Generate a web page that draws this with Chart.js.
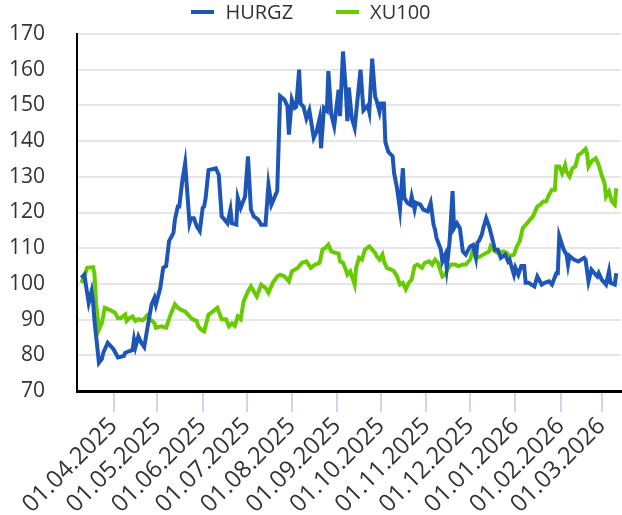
<!DOCTYPE html>
<html>
<head>
<meta charset="utf-8">
<script src="https://cdn.jsdelivr.net/npm/chart.js@4.4.1/dist/chart.umd.min.js"></script>
<style>
  body { margin: 0; background: #fff; font-family: "Open Sans", sans-serif; }
  #wrap { position: relative; width: 622px; height: 515px; }
  #legend { position: absolute; top: 0; left: 0; width: 622px; display: flex; justify-content: center; gap: 43px; font-size: 20px; line-height: 24px; color: #333; }
  .item { display: flex; align-items: center; }
  .swatch { width: 23px; height: 4px; margin-right: 11px; }
</style>
</head>
<body>
<div id="wrap">
  <div id="legend"></div>
  <canvas id="chart" width="622" height="515"></canvas>
</div>
<script>
// day 0 = 01.04.2025
const START = Date.UTC(2025, 3, 1);

const seriesNames = ["HURGZ", "XU100"];
const seriesColors = ["#1d56b6", "#66cc00"];

const tickLabels = ["01.04.2025", "01.05.2025", "01.06.2025", "01.07.2025", "01.08.2025", "01.09.2025",
    "01.10.2025", "01.11.2025", "01.12.2025", "01.01.2026", "01.02.2026", "01.03.2026"];

const hurgzDays = [-22,-20,-17,-15,-14,-13,-10,-8,-7,-4,0,3,7,8,11,13,14,15,17,19,21,24,26,28,29,32,34,36,38,41,42,44,45,47,49,52,53,55,57,59,61,62,63,65,70,72,74,76,78,80,81,84,85,87,90,92,94,96,99,101,104,106,108,110,112,114,117,119,120,122,124,125,127,128,130,132,134,137,139,141,142,144,146,147,149,151,154,155,157,159,160,161,163,165,169,171,174,175,177,179,180,182,183,185,186,188,191,192,194,196,198,199,201,203,204,206,207,210,212,215,217,219,220,221,224,225,227,228,230,232,233,235,237,239,241,244,246,248,249,250,252,253,255,257,259,261,263,265,268,270,271,274,275,277,279,281,282,284,286,288,290,293,295,298,300,303,304,305,308,310,311,312,315,318,322,323,325,327,329,331,332,334,336,337,339,340,343,344];
const hurgzValues = [101.7,102.6,94.7,98,95,89.6,77.9,79,80.7,83.5,81.7,79.4,79.8,80.7,81.2,81.5,84.4,82.3,85.3,83.5,82.3,89.6,94.2,96.1,94.2,98.9,104.5,105,112,114.3,118,121.7,121.7,128.7,133.8,117,118.4,118.4,116.1,114.8,121.3,121.7,124,131.9,132.4,130.6,118.9,118,117,120.8,117,116.6,124.1,121.3,124.5,135.7,120.8,118.9,118,116.6,116.6,127.8,122.2,124.1,126,152.6,151.6,149.8,141.8,151.6,149.3,149.6,160,150.5,149.6,146.3,148.6,140.9,142.7,146.3,138,149.3,148.5,159.6,147.5,144.2,154.4,147,165.1,154,145.6,155,146.5,143.7,160,148.6,150,148.2,163.1,152.4,151.4,148.2,150.5,150.5,139.8,137,135.7,131,126.8,120.8,132.4,124.1,122.7,122.2,124.5,120.8,122.7,122.2,120.8,120.3,122.7,116.6,115.2,112.9,109.6,106.3,108.2,104.5,112,126,115.6,117,115.6,109.1,108.2,110.5,110.9,107.3,111.5,112,113.8,115.6,118.4,116.1,112.9,109.6,109.6,107.3,108.2,106.3,106.8,102.6,104.5,102.6,105,105,100.3,100.3,99.8,99.3,102.1,99.8,100.3,100.7,99.8,103,103,113.4,109.6,108.2,105.4,107.8,106.8,106.3,107.3,106.8,100.7,104,103,102.1,103,101.2,100.3,99.8,103.5,100.3,99.8,103];

const xu100Days = [-22,-20,-18,-14,-13,-12,-10,-8,-6,-3,1,3,5,8,9,11,13,15,17,20,23,25,28,29,33,36,39,42,44,46,49,52,54,57,58,60,62,65,68,71,74,77,79,81,83,85,87,89,92,94,96,98,101,104,106,109,112,114,117,120,122,126,129,132,135,138,141,143,145,147,149,152,154,155,157,159,160,162,165,166,168,170,172,175,177,179,180,182,184,185,187,190,192,194,196,198,200,202,204,206,208,211,213,216,218,220,222,225,227,229,231,234,236,239,241,244,246,248,250,253,257,258,261,263,267,269,271,274,276,278,280,283,285,287,290,292,294,296,298,300,302,303,305,307,309,310,312,314,316,318,320,323,324,325,327,330,332,334,336,337,339,341,343,344];
const xu100Values = [100.3,102.1,104.5,104.7,102.6,94.7,87.2,89,93.3,92.8,91.9,90.4,90.4,91.4,89.6,90.4,90.9,89.6,90.1,89.8,91.2,90.1,89,87.7,88.1,87.7,91.4,94.3,93.3,92.8,92.3,90.9,90.1,89.6,88.1,87.2,86.7,91.4,92.3,93.3,90.1,90.1,88.1,89,88.3,90.9,90.1,95.1,97.9,99.3,97.9,96.5,99.8,98.9,97.5,100.3,102.1,102.6,102.1,100.7,103.5,104.5,105.9,106.3,104.5,105.4,105.9,109.6,110.1,111,109.1,108.7,108.5,106.3,105.9,103.9,102.6,103.5,99.8,104.5,107.3,106.8,109.6,110.5,109.6,108.7,107.8,106.8,108.2,106.3,104.5,104,103.5,102.1,99.8,100.3,98.5,100.3,101.2,105,105.4,104.5,105.9,106.3,105.4,106.8,105.9,102.1,102.6,104.5,105.4,105.4,105,105.4,105.4,106.8,109.6,107.3,107.5,108.2,109.1,110.5,109.1,108.7,109.1,108.7,107.8,108.2,110.5,112,115.6,117,118,118.9,121.7,122.2,123.1,123.1,125,126.4,126.4,132.9,132.9,131,133.3,131.4,130.1,132.4,132.9,136.1,136.6,137.8,136.6,132.9,134.3,135.2,133.3,130.5,128.2,124.5,125.9,123.1,122.2,126.8];

function dayOf(label) {
    const [d, m, y] = label.split(".").map(Number);
    return (Date.UTC(y, m - 1, d) - START) / 86400000;
}

function toPoints(days, values) {
    return days.map((d, i) => ({ x: d, y: values[i] }));
}

const textColor = "#333";

document.getElementById("legend").innerHTML = seriesNames.map((name, i) => `
    <div class="item"><span class="swatch" style="background:${seriesColors[i]}"></span>${name}</div>
`).join("");

new Chart(document.getElementById("chart").getContext("2d"), {
    type: "line",
    data: {
        datasets: [
            { label: seriesNames[0], data: toPoints(hurgzDays, hurgzValues), borderColor: seriesColors[0], backgroundColor: seriesColors[0], borderWidth: 4, pointRadius: 0, tension: 0 },
            { label: seriesNames[1], data: toPoints(xu100Days, xu100Values), borderColor: seriesColors[1], backgroundColor: seriesColors[1], borderWidth: 4, pointRadius: 0, tension: 0 }
        ]
    },
    options: {
        responsive: false,
        animation: false,
        layout: { padding: { top: 34, right: 0, left: 0, bottom: 0 } },
        plugins: { legend: { display: false }, tooltip: { enabled: false } },
        scales: {
            x: {
                type: "linear",
                min: -25,
                max: 347,
                afterBuildTicks: s => { s.ticks = tickLabels.map(l => ({ value: dayOf(l) })); },
                afterFit: s => { s.height = 124; },
                ticks: {
                    autoSkip: false, minRotation: 45, maxRotation: 45, padding: 0,
                    color: textColor, font: { family: "Open Sans", size: 24 },
                    callback: (v, i) => tickLabels[i]
                },
                grid: { drawOnChartArea: false, drawTicks: true, tickLength: 21, color: "#cbd7ee", lineWidth: 2 },
                border: { color: "#000", width: 3 }
            },
            y: {
                min: 70,
                max: 170,
                afterFit: s => { s.width = 77; },
                ticks: { stepSize: 10, padding: 2, color: textColor, font: { family: "Open Sans", size: 21 } },
                grid: { color: "#e6e6e6", lineWidth: 2, drawTicks: true, tickLength: 30, tickColor: "rgba(0,0,0,0)" },
                border: { color: "#000", width: 2 }
            }
        }
    }
});
</script>
</body>
</html>
